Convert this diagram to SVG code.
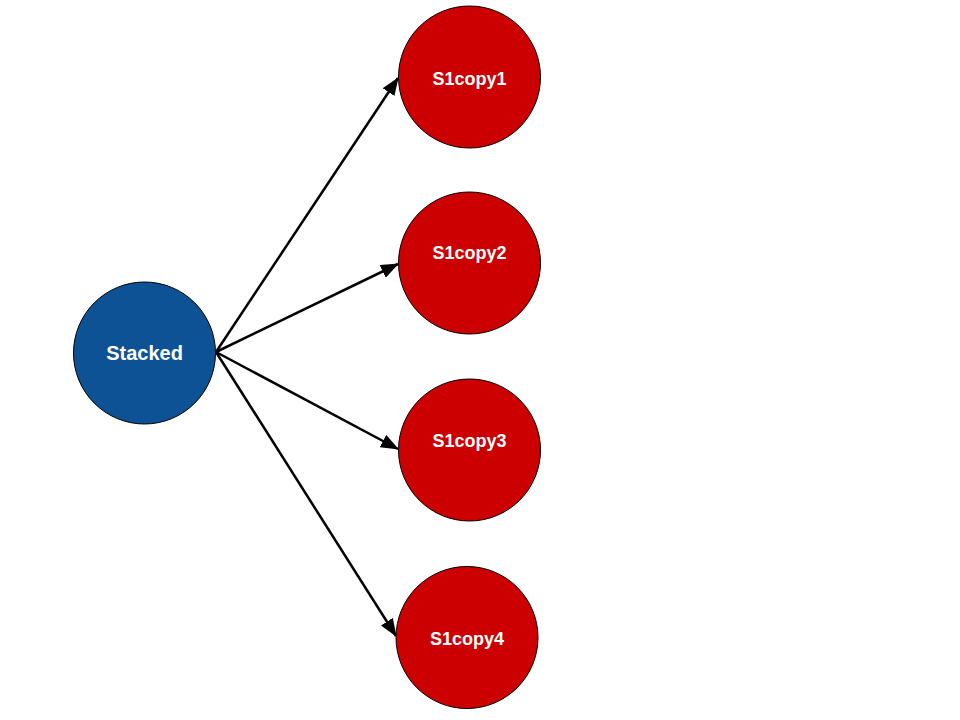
<svg xmlns="http://www.w3.org/2000/svg" width="960" height="720" viewBox="0 0 960 720">
<style>
.n{stroke:#000;stroke-width:1}
.blue{fill:#0d5294}
.red{fill:#cc0000}
.t{fill:#fff;font-family:"Liberation Sans",Arial,sans-serif;font-weight:bold;text-anchor:middle}
.e{stroke:#000;stroke-width:2.5;fill:none;marker-end:url(#ah)}
</style>
<defs>
<marker id="ah" viewBox="0 0 18 14" refX="17" refY="7" markerWidth="18" markerHeight="14" markerUnits="userSpaceOnUse" orient="auto">
<path d="M0,0 L18,7 L0,14 Z" fill="#000"/>
</marker>
</defs>
<rect width="960" height="720" fill="#fff"/>
<g id="connectors">
<line class="e" x1="216" y1="352" x2="398" y2="78"/>
<line class="e" x1="216" y1="352" x2="398" y2="264"/>
<line class="e" x1="216" y1="352" x2="398" y2="449"/>
<line class="e" x1="216" y1="352" x2="396" y2="636"/>
</g>
<g id="Stacked">
<circle class="n blue" cx="144.5" cy="353" r="71"/>
<text class="t" x="144.5" y="360" font-size="20">Stacked</text>
</g>
<g id="S1copy1">
<circle class="n red" cx="469.5" cy="77" r="71"/>
<text class="t" x="469.5" y="85" font-size="18">S1copy1</text>
</g>
<g id="S1copy2">
<circle class="n red" cx="469.5" cy="263" r="71"/>
<text class="t" x="469.5" y="259" font-size="18">S1copy2</text>
</g>
<g id="S1copy3">
<circle class="n red" cx="469.5" cy="450" r="71"/>
<text class="t" x="469.5" y="447" font-size="18">S1copy3</text>
</g>
<g id="S1copy4">
<circle class="n red" cx="467" cy="637.5" r="71"/>
<text class="t" x="467" y="645" font-size="18">S1copy4</text>
</g>
</svg>
